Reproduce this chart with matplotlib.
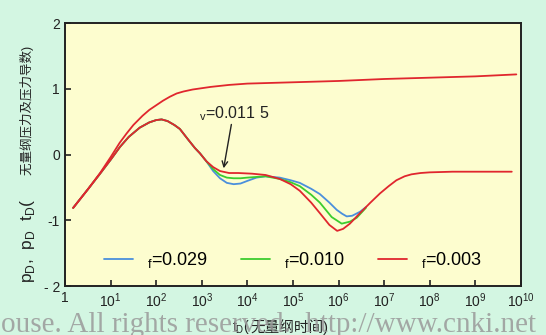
import matplotlib
matplotlib.use("Agg")
import matplotlib.pyplot as plt
import numpy as np

plt.rcParams['font.family'] = ['Liberation Sans', 'Noto Sans CJK SC', 'DejaVu Sans']
plt.rcParams['mathtext.fontset'] = 'custom'
plt.rcParams['mathtext.rm'] = 'Liberation Sans'

# pressure curve (log10 tD, log10 pD)
p_logt = [0.18, 0.5, 0.77, 1.0, 1.2, 1.35, 1.5, 1.7, 1.85, 2.0, 2.15, 2.3, 2.45, 2.6, 2.8, 3.0, 3.2,
          3.6, 4.0, 5.0, 6.0, 7.0, 8.0, 9.0, 9.9]
p_val = [-0.81, -0.53, -0.28, -0.04, 0.18, 0.32, 0.45, 0.59, 0.68, 0.75, 0.82, 0.88, 0.93, 0.96, 0.99,
         1.01, 1.03, 1.06, 1.08, 1.10, 1.12, 1.15, 1.17, 1.19, 1.22]

# derivative, common early part
d_logt = [0.18, 0.5, 0.77, 1.0, 1.21, 1.4, 1.64, 1.85, 2.0, 2.12, 2.25, 2.4, 2.52, 2.7, 2.85, 2.96, 3.1]
d_val = [-0.81, -0.53, -0.29, -0.08, 0.12, 0.27, 0.41, 0.49, 0.525, 0.535, 0.51, 0.45, 0.39, 0.23, 0.10,
         0.02, -0.10]

# red, omega_f = 0.003
r_logt = [3.25, 3.4, 3.6, 3.8, 4.1, 4.4, 4.71, 4.95, 5.15, 5.4, 5.59, 5.8, 5.97, 6.1, 6.25, 6.47,
          6.7, 6.91, 7.1, 7.27, 7.45, 7.6, 7.8, 8.0, 8.5, 9.0, 9.8]
r_val = [-0.19, -0.25, -0.28, -0.28, -0.29, -0.31, -0.37, -0.45, -0.55, -0.73, -0.89, -1.07, -1.16,
         -1.13, -1.05, -0.89, -0.73, -0.59, -0.48, -0.39, -0.33, -0.30, -0.28, -0.27, -0.26, -0.26, -0.26]

# blue, omega_f = 0.029
b_logt = [3.25, 3.4, 3.55, 3.7, 3.85, 4.0, 4.2, 4.4, 4.71, 4.95, 5.15, 5.4, 5.59, 5.8, 5.96, 6.08,
          6.18, 6.3, 6.47, 6.6]
b_val = [-0.25, -0.36, -0.43, -0.45, -0.44, -0.40, -0.35, -0.33, -0.35, -0.39, -0.43, -0.52, -0.60,
         -0.73, -0.84, -0.90, -0.94, -0.93, -0.87, -0.80]

# green, omega_f = 0.010
g_logt = [3.25, 3.4, 3.55, 3.7, 3.85, 4.0, 4.2, 4.4, 4.71, 4.95, 5.15, 5.4, 5.59, 5.85, 6.07, 6.25,
          6.4, 6.6]
g_val = [-0.22, -0.31, -0.35, -0.36, -0.36, -0.35, -0.34, -0.33, -0.37, -0.42, -0.48, -0.61, -0.73,
         -0.95, -1.05, -1.02, -0.96, -0.81]

labels = ['$_\\mathrm{f}$=0.029', '$_\\mathrm{f}$=0.010', '$_\\mathrm{f}$=0.003']
colors = ['#4a8fdc', '#3ccc2e', '#e0262e']

fig = plt.figure(figsize=(5.46, 3.35), dpi=100, facecolor='#d3f6e2')
ax = fig.add_axes([0.119, 0.146, 0.835, 0.785], facecolor='#fdfdcf')

t = lambda a: 10 ** np.array(a)
kw = dict(lw=1.3, solid_joinstyle='round', solid_capstyle='round')
ax.plot(t(d_logt + b_logt), d_val + b_val, color=colors[0], label=labels[0], **kw)
ax.plot(t(d_logt + g_logt), d_val + g_val, color=colors[1], label=labels[1], **kw)
ax.plot(t(d_logt + r_logt), d_val + r_val, color=colors[2], label=labels[2], **kw)
ax.plot(t(p_logt), p_val, color=colors[2], **kw)

ax.set_xscale('log')
ax.set_xlim(1, 1e10)
ax.set_ylim(-2, 2)
ax.set_xticks([10.0 ** k for k in range(11)])
ax.set_xticklabels(['1'] + ['$10^{%d}$' % k for k in range(1, 11)])
ax.xaxis.set_minor_locator(matplotlib.ticker.NullLocator())
ax.set_yticks([-2, -1, 0, 1, 2])
ax.set_yticklabels(['- 2', '-1', '0', '1', '2'])
ax.tick_params(direction='in', length=4, width=1.2, labelsize=10, colors='#222222')
for s in ax.spines.values():
    s.set_linewidth(1.4)
    s.set_color('#222222')

ax.annotate('', xy=(10 ** 3.47, -0.25), xytext=(10 ** 3.66, 0.5),
            arrowprops=dict(arrowstyle='->', color='#222222', lw=1.0))
ax.text(10 ** 2.95, 0.63, '$_\\mathrm{v}$=0.011 5', fontsize=11.5, color='#222222', va='center')

ax.legend(loc='lower center', bbox_to_anchor=(0.5, 0.0), ncol=3, frameon=False,
          fontsize=13, handlelength=1.6, columnspacing=1.8, handletextpad=0.8)

# y label: math part + chinese part
fig.text(0.05, 0.155, 'p$_\\mathrm{D}$,  p$_\\mathrm{D}$  t$_\\mathrm{D}$(',
         rotation=90, ha='center', va='bottom', fontsize=12.5, color='#222222')
fig.text(0.05, 0.456, '  无量纲压力及压力导数)',
         rotation=90, ha='center', va='bottom', fontsize=9, color='#222222')
# x label
fig.text(0.458, 0.025, 't$_\\mathrm{D}$(', ha='right', va='center', fontsize=10, color='#222222')
fig.text(0.458, 0.025, '无量纲时间)', ha='left', va='center', fontsize=10.5, color='#222222')
fig.text(0.002, 0.03, 'ouse. All rights reserved.  http://www.cnki.net', ha='left', va='center',
         fontsize=21, family='Liberation Serif', color='#9a9a9a', alpha=0.85)

fig.savefig('out.png', dpi=100, facecolor=fig.get_facecolor())
